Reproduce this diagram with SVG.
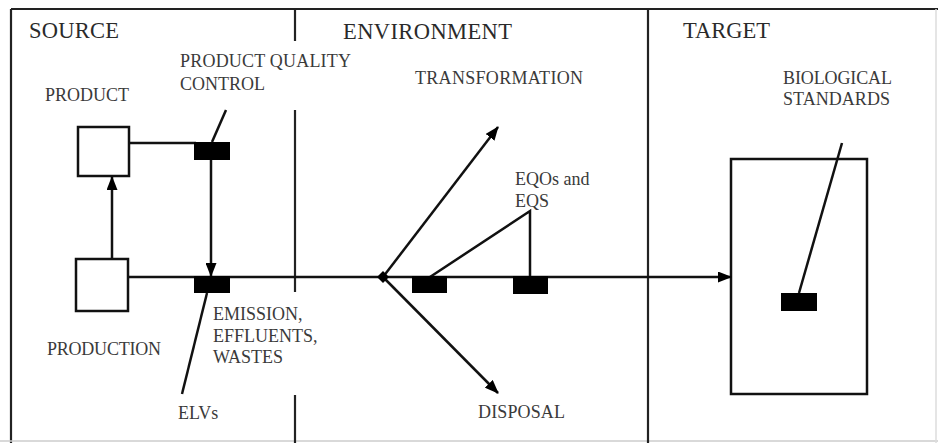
<svg xmlns="http://www.w3.org/2000/svg" width="938" height="443" viewBox="0 0 938 443">
<defs>
<style>
.ln{stroke:#111;stroke-width:2.5;fill:none}
.frame{stroke:#222;stroke-width:2.2;fill:none}
.box{stroke:#111;stroke-width:2.5;fill:#fff}
.tbox{stroke:#111;stroke-width:2.5;fill:none}
.blk{fill:#000}
.t{font-family:"Liberation Serif","Times New Roman",serif;fill:#3a3a3a;font-size:18px}
.h{font-family:"Liberation Serif","Times New Roman",serif;fill:#2a2a2a;font-size:22.5px}
</style>
<marker id="ah" viewBox="0 0 14 11" refX="13" refY="5.5" markerWidth="14" markerHeight="11" markerUnits="userSpaceOnUse" orient="auto">
<path d="M0,0 L14,5.5 L0,11 Z" fill="#000"/>
</marker>
</defs>
<rect width="938" height="443" fill="#fff"/>
<g id="frame">
<line class="frame" x1="11" y1="9" x2="938" y2="9"/>
<line class="frame" x1="11" y1="9" x2="11" y2="443"/>
<line x1="0" y1="441" x2="938" y2="441" stroke="#ccc" stroke-width="1.5"/>
<line x1="936" y1="9" x2="936" y2="443" stroke="#ddd" stroke-width="1.5"/>
<line class="frame" x1="295" y1="9" x2="295" y2="41"/>
<line class="frame" x1="295" y1="110" x2="295" y2="292"/>
<line class="frame" x1="295" y1="395" x2="295" y2="443"/>
<line class="frame" x1="648" y1="9" x2="648" y2="443"/>
<text class="h" x="29" y="38" textLength="90">SOURCE</text>
<text class="h" x="343" y="39" textLength="169">ENVIRONMENT</text>
<text class="h" x="683" y="38" textLength="87">TARGET</text>
</g>
<g id="product">
<rect class="box" x="78" y="127" width="51" height="49"/>
<text class="t" x="45" y="101" textLength="84">PRODUCT</text>
</g>
<g id="production">
<rect class="box" x="76" y="259" width="52" height="52"/>
<text class="t" x="47" y="355" textLength="114">PRODUCTION</text>
</g>
<g id="target">
<rect class="tbox" x="731" y="159" width="136" height="235"/>
<rect class="blk" x="781" y="293" width="36" height="18"/>
<text class="t" x="783" y="84" textLength="109">BIOLOGICAL</text>
<text class="t" x="783" y="105" textLength="107">STANDARDS</text>
</g>
<g id="connectors">
<line class="ln" x1="112" y1="259" x2="112" y2="177" marker-end="url(#ah)"/>
<line class="ln" x1="129" y1="143" x2="196" y2="143"/>
<line class="ln" x1="211" y1="160" x2="211" y2="276" marker-end="url(#ah)"/>
<line class="ln" x1="226" y1="110" x2="212" y2="142"/>
<line class="ln" x1="128" y1="277" x2="731" y2="277" marker-end="url(#ah)"/>
<line class="ln" x1="207" y1="293" x2="182" y2="394"/>
<line class="ln" x1="383" y1="277" x2="498" y2="127" marker-end="url(#ah)"/>
<line class="ln" x1="383" y1="277" x2="498" y2="393" marker-end="url(#ah)"/>
<path d="M377,277 L383,271 L389,277 L383,283 Z" fill="#000"/>
<polyline class="ln" points="430,277 530,211 530,277"/>
<line class="ln" x1="799" y1="293" x2="842" y2="143"/>
</g>
<g id="pqc">
<rect class="blk" x="194" y="142" width="36" height="18"/>
<text class="t" x="180" y="67" textLength="171">PRODUCT QUALITY</text>
<text class="t" x="180" y="90">CONTROL</text>
</g>
<g id="emission">
<rect class="blk" x="194" y="276" width="36" height="17"/>
<text class="t" x="213" y="320">EMISSION,</text>
<text class="t" x="213" y="342">EFFLUENTS,</text>
<text class="t" x="213" y="363">WASTES</text>
</g>
<g id="elvs">
<text class="t" x="178" y="419">ELVs</text>
</g>
<g id="transformation">
<text class="t" x="415" y="84" textLength="168">TRANSFORMATION</text>
</g>
<g id="disposal">
<text class="t" x="478" y="418" textLength="87">DISPOSAL</text>
</g>
<g id="env-block1">
<rect class="blk" x="412" y="276" width="35" height="17"/>
</g>
<g id="eqo">
<rect class="blk" x="513" y="276" width="35" height="18"/>
<text class="t" x="515" y="185">EQOs and</text>
<text class="t" x="515" y="207">EQS</text>
</g>
</svg>
